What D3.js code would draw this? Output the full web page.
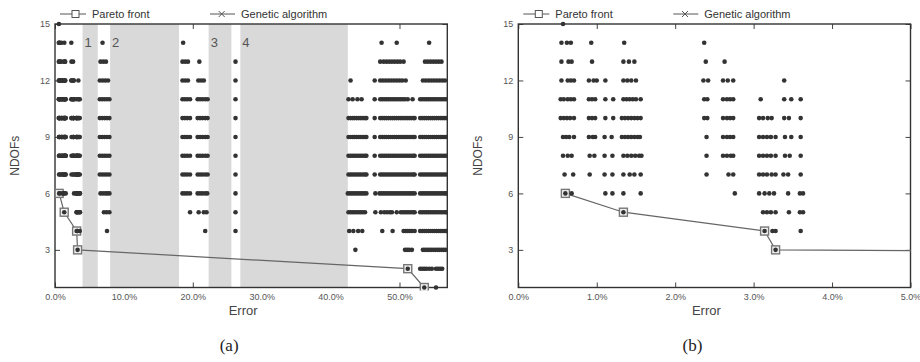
<!DOCTYPE html>
<html><head><meta charset="utf-8">
<script src="https://cdn.jsdelivr.net/npm/d3@7"></script>
<style>
body{margin:0;background:#fff}
svg{display:block}
text{font-family:"Liberation Sans",Arial,Helvetica,sans-serif}
</style>
</head><body>
<svg id="chart" width="920" height="362"></svg>
<script>
// ---------- data (error in %, one array per NDOF level) ----------
const ndofLevels = [15,14,13,12,11,10,9,8,7,6,5,4,3,2,1];
const ndofTicks = [3,6,9,12,15];
const errorTicksA = [0,10,20,30,40,50];
const errorTicksB = [0,1,2,3,4,5];
const panelLabels = ["(a)","(b)"];
const legendLabels = ["Pareto front","Genetic algorithm"];

const regionStarts = [4.0, 8.0, 22.3, 26.9];
const regionEnds   = [6.2, 18.0, 25.6, 42.5];
const regionNames  = ["1","2","3","4"];

const paretoError = [0.6, 1.34, 3.14, 3.28, 51.2, 53.6];
const paretoNdof  = [6, 5, 4, 3, 2, 1];

const ga15 = [0.57];
const ga14 = [0.55,0.62,0.67,0.93,1.35,2.37, 6.9, 18.6, 47.4,49.6, 54.3];
const ga13 = [0.55,0.64,0.68,0.94,1.34,1.41,1.48,2.39,2.63, 6.6,7.0,7.4, 18.5,18.9,19.3,20.95, 26.2,
  47.2,47.7,48.1,48.5,48.9,49.3,49.7,50.1,50.6, 53.7,54.1,54.5,54.9,55.3,55.7,56.1];
const ga12 = [0.55,0.63,0.67,0.71,0.9,0.96,1.0,1.11,1.34,1.39,1.44,1.5,2.36,2.42,2.61,2.67,2.74,3.39,
  6.5,6.9,7.3,7.7, 18.5,18.9,19.3,20.8,21.2,21.6, 26.2, 42.9,
  46.4,47.2,47.6,48.0,48.4,48.8,49.2,49.6,50.0,50.4,50.9,
  53.4,53.8,54.2,54.6,55.0,55.4,55.8,56.2,56.6];
const ga11 = [0.54,0.58,0.63,0.67,0.71,0.9,0.94,0.98,1.11,1.21,1.34,1.38,1.42,1.46,1.5,1.56,2.37,2.41,2.61,2.66,2.7,2.74,3.09,3.39,3.48,3.6,
  6.5,6.85,7.2,7.55,7.9, 18.5,18.85,19.2,19.6,20.7,21.05,21.4,21.8,22.15, 26.2,
  42.6,43.2,43.9,44.5, 46.4,47.2,47.5,47.8,48.1,48.4,48.7,49.0,49.3,49.6,49.9,50.2,50.5,50.8,51.2,51.9,
  53.0,53.3,53.6,53.9,54.2,54.5,54.8,55.1,55.4,55.7,56.0,56.3,56.6,56.9];
const ga10 = [0.54,0.58,0.62,0.66,0.71,0.9,0.94,0.98,1.11,1.21,1.32,1.36,1.4,1.44,1.48,1.52,1.56,2.37,2.41,2.61,2.66,2.7,2.74,3.07,3.12,3.18,3.23,3.39,3.45,3.6,
  6.5,6.85,7.2,7.55,7.9, 18.5,18.85,19.2,19.6,20.7,21.05,21.4,21.8,22.15, 26.2,
  42.6,42.9,43.2,43.5,43.8,44.1,44.4,44.7,45.0,45.2, 46.4,47.2,47.5,47.8,48.1,48.4,48.7,49.0,49.3,49.6,49.9,50.2,50.5,50.8,51.1,51.4,51.7,52.0,52.2,
  53.0,53.3,53.6,53.9,54.2,54.5,54.8,55.1,55.4,55.7,56.0,56.3,56.6,56.9];
const ga9 = [0.57,0.61,0.65,0.71,0.9,0.95,0.98,1.1,1.19,1.32,1.36,1.4,1.44,1.48,1.52,1.55,2.4,2.61,2.66,2.7,2.74,3.07,3.12,3.17,3.22,3.28,3.4,3.48,3.6,
  6.5,6.85,7.2,7.55,7.9, 18.5,18.85,19.2,19.6,20.7,21.05,21.4,21.8,22.15, 26.2,
  42.6,42.9,43.2,43.5,43.8,44.1,44.4,44.7,45.0,45.2, 46.4,47.2,47.5,47.8,48.1,48.4,48.7,49.0,49.3,49.6,49.9,50.2,50.5,50.8,51.1,51.4,51.7,52.0,52.2,
  53.0,53.3,53.6,53.9,54.2,54.5,54.8,55.1,55.4,55.7,56.0,56.3,56.6,56.9];
const ga8 = [0.57,0.63,0.68,0.91,0.97,1.1,1.2,1.34,1.39,1.44,1.49,1.54,1.57,2.4,2.61,2.66,2.71,2.74,3.07,3.12,3.17,3.22,3.28,3.4,3.46,3.6,
  6.5,6.85,7.2,7.55,7.9, 18.5,18.85,19.2,19.6,20.7,21.05,21.4,21.8,22.15, 26.2,
  42.6,42.9,43.2,43.5,43.8,44.1,44.4,44.7,45.0,45.2, 46.4,47.2,47.5,47.8,48.1,48.4,48.7,49.0,49.3,49.6,49.9,50.2,50.5,50.8,51.1,51.4,51.7,52.0,52.2,
  53.0,53.3,53.6,53.9,54.2,54.5,54.8,55.1,55.4,55.7,56.0,56.3,56.6,56.9];
const ga7 = [0.59,0.7,0.91,1.1,1.2,1.34,1.42,1.48,1.56,2.4,2.68,2.74,3.07,3.12,3.17,3.23,3.28,3.38,3.44,3.6,
  6.5,6.85,7.2,7.55,7.9, 18.5,18.85,19.2,19.6,20.7,21.05,21.4,21.8,22.15, 26.2,
  42.6,42.9,43.2,43.5,43.8,44.1,44.4,44.7,45.0,45.2, 46.4,47.2,47.5,47.8,48.1,48.4,48.7,49.0,49.3,49.6,49.9,50.2,50.5,50.8,51.1,51.4,51.7,52.0,52.2,
  53.0,53.3,53.6,53.9,54.2,54.5,54.8,55.1,55.4,55.7,56.0,56.3,56.6,56.9];
const ga6 = [0.6,0.68,1.11,1.2,1.34,1.56,2.76,3.07,3.14,3.2,3.26,3.44,3.59,3.63,
  6.6,6.95,7.3,7.6,7.9, 18.5,18.85,19.2,19.6,20.7,21.05,21.4,21.8,22.1, 26.2,
  42.5,42.8,43.1,43.4,43.7,44.0,44.3,44.6,44.9,45.2, 46.5,47.1,47.4,47.7,48.0,48.3,48.6,48.9,49.2,49.5,49.8,50.1,50.4,50.7,51.0,51.3,51.6,51.9,52.2,
  53.0,53.3,53.6,53.9,54.2,54.5,54.8,55.1,55.4,55.7,56.0,56.3,56.6,56.8];
const ga5 = [1.34,3.12,3.17,3.22,3.28,3.45,3.59,3.63,
  7.1,7.5,7.9, 19.6,20.85,21.6,22.0, 26.2,
  42.6,42.9,43.2,43.5,43.8,44.1,44.4,44.7,45.0, 46.5,47.3,47.8,48.2,48.6,48.9,49.6,50.2,50.5,50.8,51.1,51.4,51.7,52.0,52.2,
  53.0,53.3,53.6,53.9,54.2,54.5,54.8,55.1,55.4,55.7,56.0,56.3,56.6,56.8];
const ga4 = [3.14,3.24,3.28,3.6, 7.55, 21.8, 26.2, 42.7,43.3,44.0,44.6, 47.5,49.0,50.6,50.9,51.2,51.5,51.8,52.2,
  53.0,53.3,53.6,53.9,54.2,54.5,54.8,55.1,55.4,55.7,56.0,56.3,56.6,56.8];
const ga3 = [3.28, 43.6, 50.8,51.1,51.4,51.8, 53.4,53.7,54.0,54.3,54.6,54.9,55.2,55.5,55.8,56.1,56.4,56.7];
const ga2 = [51.2, 53.0,53.3,53.6,53.9,54.3,54.7, 55.3,55.6,55.9,56.2];
const ga1 = [53.6, 55.3];

const gaByLevel = [ga15,ga14,ga13,ga12,ga11,ga10,ga9,ga8,ga7,ga6,ga5,ga4,ga3,ga2,ga1];
const gaPoints = [];
ndofLevels.forEach((n,i)=>gaByLevel[i].forEach(e=>gaPoints.push({e:e,n:n})));
const paretoPoints = paretoError.map((e,i)=>({e:e,n:paretoNdof[i]}));
const regions = regionStarts.map((s,i)=>({s:s,t:regionEnds[i],name:regionNames[i]}));

// ---------- drawing ----------
const svg = d3.select("#chart");
const plotTop = 24, plotBottom = 287.5;
const y = d3.scaleLinear().domain([1,15]).range([plotBottom, plotTop]);

function panel(cfg){
  const x = d3.scaleLinear().domain(cfg.domain).range([cfg.left, cfg.right]);
  const g = svg.append("g");
  const clipId = "clip"+cfg.id;
  svg.append("clipPath").attr("id",clipId).append("rect")
    .attr("x",cfg.left).attr("y",plotTop-3).attr("width",cfg.right-cfg.left+0.5).attr("height",plotBottom-plotTop+6);

  const fmt = d=>d.toFixed(1)+"%";
  const tk = 5;
  const ax = [
    g.append("g").attr("transform",`translate(0,${plotBottom})`).call(d3.axisBottom(x).tickValues(cfg.ticks).tickFormat(fmt).tickSizeInner(-tk).tickSizeOuter(0).tickPadding(6)),
    g.append("g").attr("transform",`translate(0,${plotTop})`).call(d3.axisTop(x).tickValues(cfg.ticks).tickFormat("").tickSizeInner(-tk).tickSizeOuter(0)),
    g.append("g").attr("transform",`translate(${cfg.left},0)`).call(d3.axisLeft(y).tickValues(ndofTicks).tickFormat(d3.format("d")).tickSizeInner(-tk).tickSizeOuter(0).tickPadding(5)),
    g.append("g").attr("transform",`translate(${cfg.right},0)`).call(d3.axisRight(y).tickValues(ndofTicks).tickFormat("").tickSizeInner(-tk).tickSizeOuter(0))
  ];
  ax.forEach(a=>{
    a.select(".domain").remove();
    a.selectAll("line").attr("stroke","#444").attr("stroke-width",1);
    a.selectAll("text").attr("fill","#555").style("font-size","9px");
  });

  if(cfg.regions){
    g.selectAll("rect.reg").data(regions).join("rect").attr("class","reg")
      .attr("x",d=>x(d.s)).attr("width",d=>x(d.t)-x(d.s))
      .attr("y",plotTop).attr("height",plotBottom-plotTop).attr("fill","#d9d9d9");
    g.selectAll("text.regl").data(regions).join("text").attr("class","regl")
      .attr("x",d=>x(d.s)+2).attr("y",y(14)+4.5)
      .attr("fill","#555").style("font-size","13px").text(d=>d.name);
  }

  g.append("rect").attr("x",cfg.left).attr("y",plotTop).attr("width",cfg.right-cfg.left).attr("height",plotBottom-plotTop)
    .attr("fill","none").attr("stroke","#333").attr("stroke-width",1.4);

  const pts = g.append("g").attr("clip-path",`url(#${clipId})`);
  pts.append("path").datum(paretoPoints)
    .attr("d",d3.line().x(d=>x(d.e)).y(d=>y(d.n)))
    .attr("fill","none").attr("stroke","#666").attr("stroke-width",1.2);
  const vis = d=>d.e<=cfg.domain[1];
  pts.selectAll("rect.pm").data(paretoPoints.filter(vis)).join("rect").attr("class","pm")
    .attr("x",d=>x(d.e)-4).attr("y",d=>y(d.n)-4).attr("width",8).attr("height",8)
    .attr("fill","#f2f2f2").attr("stroke","#777").attr("stroke-width",1.4);
  pts.selectAll("circle.ga").data(gaPoints.filter(vis)).join("circle").attr("class","ga")
    .attr("cx",d=>x(d.e)).attr("cy",d=>y(d.n)).attr("r",2.3).attr("fill","#333");

  g.append("text").attr("x",(cfg.left+cfg.right)/2-8).attr("y",315).attr("text-anchor","middle")
    .attr("fill","#444").style("font-size","13px").text("Error");
  g.append("text").attr("transform",`translate(${cfg.left-36},${(plotTop+plotBottom)/2}) rotate(-90)`)
    .attr("text-anchor","middle").attr("fill","#444").style("font-size","12px").text("NDOFs");
  g.append("text").attr("x",(cfg.left+cfg.right)/2-22).attr("y",351).attr("text-anchor","middle")
    .attr("fill","#222").style("font-family","'Liberation Serif','DejaVu Serif',serif").style("font-size","17px").text(cfg.caption);

  const lg = g.append("g").attr("transform",`translate(${cfg.left},14)`);
  lg.append("line").attr("x1",5).attr("x2",31).attr("stroke","#555").attr("stroke-width",1);
  lg.append("rect").attr("x",17).attr("y",-3.5).attr("width",7).attr("height",7).attr("fill","#fff").attr("stroke","#555");
  lg.append("text").attr("x",37).attr("y",4).attr("fill","#333").style("font-size","11px").text(legendLabels[0]);
  lg.append("line").attr("x1",155).attr("x2",180).attr("stroke","#555").attr("stroke-width",1);
  lg.append("path").attr("d","M163.7,-3 L169.7,3 M163.7,3 L169.7,-3").attr("stroke","#555").attr("stroke-width",1);
  lg.append("text").attr("x",186).attr("y",4).attr("fill","#333").style("font-size","11px").text(legendLabels[1]);
}

panel({id:"a", left:55, right:447.3, domain:[0,56.94], ticks:errorTicksA, regions:true, caption:panelLabels[0]});
panel({id:"b", left:518.3, right:910.5, domain:[0,5], ticks:errorTicksB, regions:false, caption:panelLabels[1]});
</script>
</body></html>
